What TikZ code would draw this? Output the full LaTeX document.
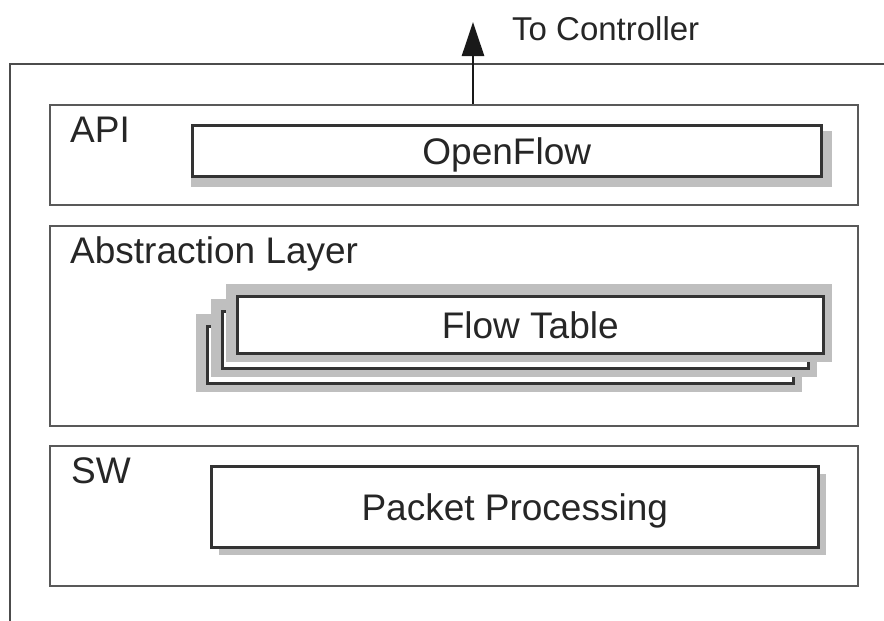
\documentclass[tikz,border=0pt]{standalone}
\usepackage{fontspec}
\setmainfont{Liberation Sans}
\usetikzlibrary{arrows.meta}
\begin{document}
\begin{tikzpicture}[x=1pt,y=-1pt,
  layerbox/.style={draw=black!65, line width=2pt, fill=white, anchor=north west, inner sep=0pt},
  innerbox/.style={draw=black!80, line width=2.5pt, fill=white, anchor=north west, inner sep=0pt,
    font=\fontsize{37}{44}\selectfont, text=black!85, text height=26.5pt, text depth=0pt},
  halo/.style={fill=black!25, draw=none},
  lbl/.style={anchor=base west, inner sep=0pt, font=\fontsize{37}{44}\selectfont, text=black!85}]
\useasboundingbox (0,0) rectangle (884,621);
% outer switch box (cut off at the right and bottom)
\draw[black!70, line width=2pt] (884,64) -- (10,64) -- (10,621);

% layers
\node[layerbox, minimum width=808pt, minimum height=100pt] (api) at (49,104) {};
\node[layerbox, minimum width=808pt, minimum height=200pt] (abs) at (49,225) {};
\node[layerbox, minimum width=808pt, minimum height=140pt] (sw) at (49,445) {};

\node[lbl] (apil) at (70,142) {API};
\node[lbl] (absl) at (70,263) {Abstraction Layer};
\node[lbl] (swl) at (71,483) {SW};

% OpenFlow
\fill[halo] (191,131) rectangle (832,187);
\node[innerbox, minimum width=629pt, minimum height=51pt] (of) at (191,124) {OpenFlow};

% Flow table stack
\fill[halo] (196,314) rectangle (802,392);
\node[innerbox, minimum width=586pt, minimum height=57pt] (ft3) at (206,325) {};
\fill[halo] (211,299) rectangle (817,377);
\node[innerbox, minimum width=586pt, minimum height=57pt] (ft2) at (221,310) {};
\fill[halo] (226,284) rectangle (832,362);
\node[innerbox, minimum width=586pt, minimum height=57pt] (ft) at (236,295) {Flow Table};

% Packet processing
\fill[halo] (219,474) rectangle (826,555);
\node[innerbox, minimum width=607pt, minimum height=81pt] (pp) at (210,465) {Packet Processing};

% arrow to controller
\coordinate (ctrl) at (473,22);
\draw[black!90, line width=2.5pt, -{Triangle[length=34pt,width=22pt]}] (api.north -| ctrl) -- (ctrl);
\node[anchor=base west, inner sep=0pt, font=\fontsize{33}{40}\selectfont, text=black!85] (tc) at (512,40) {To Controller};
\end{tikzpicture}
\end{document}
